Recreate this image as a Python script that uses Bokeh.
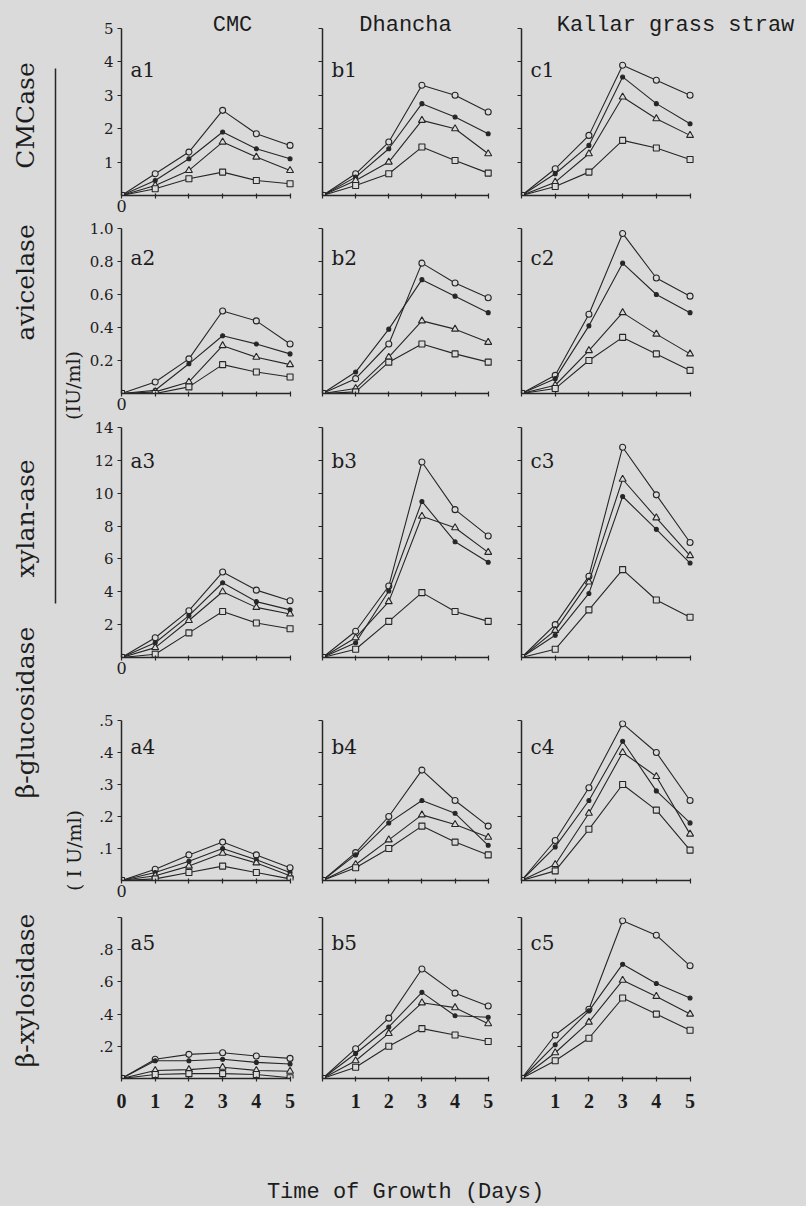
import math
from bokeh.plotting import figure
from bokeh.models import Range1d, FixedTicker, Label, GridBox, Row, Column, CustomJSTickFormatter
from bokeh.embed import file_html
from bokeh.resources import INLINE
from bokeh.core.properties import value

BG = "#dadada"
INK = "#262626"

# ---------------- data (enzyme activity vs. days of growth) ----------------
days = [0, 1, 2, 3, 4, 5]

# row 1: CMCase (IU/ml)
a1_o = [0, 0.65, 1.3, 2.55, 1.85, 1.5]
a1_d = [0, 0.45, 1.1, 1.9, 1.4, 1.1]
a1_t = [0, 0.3, 0.75, 1.6, 1.15, 0.75]
a1_s = [0, 0.2, 0.5, 0.7, 0.45, 0.35]
b1_o = [0, 0.65, 1.6, 3.3, 3.0, 2.5]
b1_d = [0, 0.55, 1.4, 2.75, 2.35, 1.85]
b1_t = [0, 0.45, 1.0, 2.25, 2.0, 1.25]
b1_s = [0, 0.3, 0.65, 1.45, 1.05, 0.67]
c1_o = [0, 0.8, 1.8, 3.9, 3.45, 3.0]
c1_d = [0, 0.65, 1.5, 3.55, 2.75, 2.15]
c1_t = [0, 0.4, 1.25, 2.95, 2.3, 1.8]
c1_s = [0, 0.27, 0.7, 1.65, 1.42, 1.08]

# row 2: avicelase
a2_o = [0, 0.07, 0.21, 0.50, 0.44, 0.30]
a2_d = [0, 0.02, 0.18, 0.35, 0.30, 0.24]
a2_t = [0, 0.01, 0.07, 0.29, 0.22, 0.175]
a2_s = [0, 0.0, 0.04, 0.175, 0.13, 0.10]
b2_o = [0, 0.09, 0.30, 0.79, 0.67, 0.58]
b2_d = [0, 0.13, 0.39, 0.69, 0.59, 0.49]
b2_t = [0, 0.03, 0.22, 0.44, 0.39, 0.31]
b2_s = [0, 0.01, 0.19, 0.30, 0.24, 0.19]
c2_o = [0, 0.11, 0.48, 0.97, 0.70, 0.59]
c2_d = [0, 0.09, 0.41, 0.79, 0.60, 0.49]
c2_t = [0, 0.05, 0.26, 0.49, 0.36, 0.24]
c2_s = [0, 0.03, 0.20, 0.34, 0.24, 0.14]

# row 3: xylanase
a3_o = [0, 1.2, 2.85, 5.2, 4.1, 3.45]
a3_d = [0, 0.9, 2.55, 4.55, 3.4, 2.9]
a3_t = [0, 0.6, 2.25, 4.0, 3.05, 2.65]
a3_s = [0, 0.2, 1.5, 2.8, 2.1, 1.75]
b3_o = [0, 1.6, 4.35, 11.9, 9.0, 7.4]
b3_d = [0, 0.9, 4.05, 9.5, 7.05, 5.8]
b3_t = [0, 1.2, 3.4, 8.6, 7.9, 6.4]
b3_s = [0, 0.5, 2.2, 3.95, 2.8, 2.2]
c3_o = [0, 2.0, 4.95, 12.8, 9.9, 7.0]
c3_t = [0, 1.65, 4.6, 10.85, 8.5, 6.2]
c3_d = [0, 1.35, 3.9, 9.8, 7.8, 5.75]
c3_s = [0, 0.5, 2.9, 5.35, 3.5, 2.45]

# row 4: beta-glucosidase
a4_o = [0, 0.035, 0.08, 0.12, 0.08, 0.04]
a4_d = [0, 0.025, 0.06, 0.10, 0.065, 0.025]
a4_t = [0, 0.015, 0.045, 0.085, 0.055, 0.015]
a4_s = [0, 0.005, 0.025, 0.045, 0.025, 0.005]
b4_o = [0, 0.087, 0.20, 0.345, 0.25, 0.17]
b4_d = [0, 0.08, 0.18, 0.25, 0.21, 0.11]
b4_t = [0, 0.05, 0.127, 0.205, 0.175, 0.135]
b4_s = [0, 0.04, 0.10, 0.17, 0.12, 0.08]
c4_o = [0, 0.125, 0.29, 0.49, 0.40, 0.25]
c4_d = [0, 0.105, 0.25, 0.435, 0.28, 0.18]
c4_t = [0, 0.05, 0.21, 0.40, 0.325, 0.145]
c4_s = [0, 0.03, 0.16, 0.30, 0.22, 0.095]

# row 5: beta-xylosidase
a5_o = [0, 0.12, 0.15, 0.16, 0.14, 0.125]
a5_d = [0, 0.11, 0.11, 0.12, 0.10, 0.09]
a5_t = [0, 0.05, 0.055, 0.07, 0.05, 0.045]
a5_s = [0, 0.025, 0.03, 0.03, 0.025, 0.005]
b5_o = [0, 0.185, 0.375, 0.68, 0.53, 0.45]
b5_d = [0, 0.155, 0.32, 0.535, 0.39, 0.38]
b5_t = [0, 0.11, 0.28, 0.47, 0.44, 0.34]
b5_s = [0, 0.07, 0.20, 0.31, 0.27, 0.23]
c5_o = [0, 0.27, 0.43, 0.98, 0.89, 0.70]
c5_d = [0, 0.21, 0.42, 0.71, 0.59, 0.50]
c5_t = [0, 0.16, 0.35, 0.61, 0.51, 0.40]
c5_s = [0, 0.11, 0.25, 0.50, 0.40, 0.30]

col_titles = ["CMC", "Dhancha", "Kallar grass straw"]
row_names = ["CMCase", "avicelase", "xylan-ase", "\u03b2-glucosidase", "\u03b2-xylosidase"]
unit_labels = ["(IU/ml)", "( I U/ml)"]
x_title = "Time of Growth (Days)"
panel_ids = [["a1", "b1", "c1"], ["a2", "b2", "c2"], ["a3", "b3", "c3"],
             ["a4", "b4", "c4"], ["a5", "b5", "c5"]]
y_max = [5, 1.0, 14, 0.5, 1.0]
y_ticks = [[1, 2, 3, 4, 5], [0.2, 0.4, 0.6, 0.8, 1.0], [2, 4, 6, 8, 10, 12, 14],
           [0.1, 0.2, 0.3, 0.4, 0.5], [0.2, 0.4, 0.6, 0.8, 1.0]]
y_tick_labels = [["1", "2", "3", "4", "5"], ["0.2", "0.4", "0.6", "0.8", "1.0"],
                 ["2", "4", "6", "8", "10", "12", "14"], [".1", ".2", ".3", ".4", ".5"],
                 [".2", ".4", ".6", ".8", ""]]
x_tick_labels = ["0", "1", "2", "3", "4", "5"]

series = {
    "a1": [a1_o, a1_d, a1_t, a1_s], "b1": [b1_o, b1_d, b1_t, b1_s], "c1": [c1_o, c1_d, c1_t, c1_s],
    "a2": [a2_o, a2_d, a2_t, a2_s], "b2": [b2_o, b2_d, b2_t, b2_s], "c2": [c2_o, c2_d, c2_t, c2_s],
    "a3": [a3_o, a3_d, a3_t, a3_s], "b3": [b3_o, b3_d, b3_t, b3_s], "c3": [c3_o, c3_d, c3_t, c3_s],
    "a4": [a4_o, a4_d, a4_t, a4_s], "b4": [b4_o, b4_d, b4_t, b4_s], "c4": [c4_o, c4_d, c4_t, c4_s],
    "a5": [a5_o, a5_d, a5_t, a5_s], "b5": [b5_o, b5_d, b5_t, b5_s], "c5": [c5_o, c5_d, c5_t, c5_s],
}

# ---------------- layout (page pixels, origin at top-left) ----------------
LABEL_W = 84
COLS = [dict(left=37, frame=177, right=10),
        dict(left=14, frame=174, right=10),
        dict(left=15, frame=283, right=2)]
col_unit = [33.71, 33.14, 33.71]     # pixels per day in each column
# axis = pixel length of the 0..y_max axis; frame may extend above it (row 1, for titles)
ROWS = [dict(top=4, frame=191, axis=167, bottom=24),
        dict(top=9, frame=165, axis=165, bottom=24),
        dict(top=10, frame=230, axis=230, bottom=24),
        dict(top=39, frame=160, axis=160, bottom=24),
        dict(top=13, frame=161, axis=161, bottom=47)]
BOTTOM_H = 81

col_frame_left = []
xx = LABEL_W
for c in COLS:
    col_frame_left.append(xx + c["left"])
    xx += c["left"] + c["frame"] + c["right"]
TOTAL_W = xx
row_frame_bottom = []
yy = 0
for r in ROWS:
    row_frame_bottom.append(yy + r["top"] + r["frame"])
    yy += r["top"] + r["frame"] + r["bottom"]
GRID_H = yy


def to_data(ci, ri, px, py, xe, ye):
    x = (px - col_frame_left[ci]) * xe / COLS[ci]["frame"]
    y = (row_frame_bottom[ri] - py) * ye / ROWS[ri]["frame"]
    return x, y


def fmt(tick_values, tick_texts):
    return CustomJSTickFormatter(
        args=dict(tv=tick_values, tl=tick_texts),
        code="for (let i = 0; i < tv.length; i++) { if (Math.abs(tv[i] - tick) < 1e-9) return tl[i]; } return '';")


marker_styles = [("circle", 6, BG), ("circle", 4, INK), ("triangle", 7, BG), ("square", 6, BG)]
label_dy = [41, 29, 33, 26, 25]      # panel tag offset below the axis top (px)
title_x = [232, 405, 675]

grid_children = []
for ri in range(5):
    for ci in range(3):
        c, r = COLS[ci], ROWS[ri]
        xe = c["frame"] / col_unit[ci]
        ye = y_max[ri] * r["frame"] / r["axis"]
        p = figure(width=c["left"] + c["frame"] + c["right"],
                   height=r["top"] + r["frame"] + r["bottom"],
                   x_range=Range1d(0, xe), y_range=Range1d(0, ye), title=None,
                   min_border_left=c["left"], min_border_right=c["right"],
                   min_border_top=r["top"], min_border_bottom=r["bottom"],
                   toolbar_location=None, output_backend="svg",
                   background_fill_color=BG, border_fill_color=BG,
                   outline_line_color=None)
        p.grid.visible = False
        xa, ya = p.xaxis[0], p.yaxis[0]
        for ax in (xa, ya):
            ax.axis_line_color = INK
            ax.axis_line_width = 1.5
            ax.major_tick_line_color = INK
            ax.major_tick_line_width = 1.2
            ax.minor_tick_line_color = None
            ax.major_label_text_color = "#1c1c1c"
        xa.ticker = FixedTicker(ticks=days)
        xa.bounds = (0, 5)
        xa.major_tick_out = 3
        xa.major_tick_in = 2
        ya.ticker = FixedTicker(ticks=y_ticks[ri])
        ya.bounds = (0, y_max[ri])
        ya.major_tick_out = 4
        ya.major_tick_in = 0
        ya.major_label_standoff = 4
        ya.major_label_text_font = "DejaVu Serif"
        ya.major_label_text_font_size = "15px"
        if ci == 0:
            ya.formatter = fmt(y_ticks[ri], y_tick_labels[ri])
        else:
            ya.formatter = fmt(y_ticks[ri], [""] * len(y_ticks[ri]))
        if ri < 4:
            xa.major_label_standoff = 1
            xa.major_label_text_font = "DejaVu Serif"
            xa.major_label_text_font_size = "16px"
            xa.formatter = fmt(days, ["0", "", "", "", "", ""] if ci == 0 else [""] * 6)
        else:
            xa.major_label_standoff = 12
            xa.major_label_text_font = "Liberation Serif"
            xa.major_label_text_font_style = "bold"
            xa.major_label_text_font_size = "20px"
            xa.formatter = fmt(days, x_tick_labels if ci == 0 else [""] + x_tick_labels[1:])

        pid = panel_ids[ri][ci]
        for ys, (mk, sz, fc) in zip(series[pid], marker_styles):
            p.line(days, ys, line_color=INK, line_width=1.1)
            p.scatter(days, ys, marker=mk, size=sz, line_color=INK, fill_color=fc, line_width=1.1)

        axis_top = row_frame_bottom[ri] - r["axis"]
        lx, ly = to_data(ci, ri, col_frame_left[ci] + 9, axis_top + label_dy[ri], xe, ye)
        p.add_layout(Label(x=lx, y=ly, text=pid, text_font="DejaVu Serif", text_font_size="20px",
                           text_color="#1c1c1c", text_baseline="middle", text_align="left"))
        if ri == 0:
            tx, ty = to_data(ci, 0, title_x[ci], 25, xe, ye)
            p.add_layout(Label(x=tx, y=ty, text=col_titles[ci], text_font="Liberation Mono",
                               text_font_size="22px", text_color="#1c1c1c",
                               text_align="center", text_baseline="middle"))
        grid_children.append((p, ri, ci))

panels = GridBox(children=grid_children, spacing=0, styles={"background-color": BG})

# left label strip; coordinates are pixels up from its bottom edge
lf = figure(width=LABEL_W, height=GRID_H, x_range=Range1d(0, LABEL_W), y_range=Range1d(0, GRID_H),
            title=None, min_border=0, x_axis_type=None, y_axis_type=None, toolbar_location=None,
            output_backend="svg", background_fill_color=BG, border_fill_color=BG,
            outline_line_color=None)
lf.grid.visible = False
row_label_page_y = [115, 282, 518, 712, 990]
lf.text(x=[25] * 5, y=[GRID_H - v for v in row_label_page_y], text=row_names,
        angle=math.pi / 2, text_align="center", text_baseline="middle",
        text_font=value("DejaVu Serif"), text_font_size=value("25px"), text_color="#1c1c1c")
lf.text(x=[72, 73], y=[GRID_H - 385, GRID_H - 850], text=unit_labels,
        angle=math.pi / 2, text_align="center", text_baseline="middle",
        text_font=value("DejaVu Serif"), text_font_size=value("19px"), text_color="#1c1c1c")
lf.segment(x0=[55], y0=[GRID_H - 68], x1=[55], y1=[GRID_H - 603],
           line_color=INK, line_width=1.5)

bf = figure(width=TOTAL_W, height=BOTTOM_H, x_range=Range1d(0, TOTAL_W), y_range=Range1d(0, BOTTOM_H),
            title=None, min_border=0, x_axis_type=None, y_axis_type=None, toolbar_location=None,
            output_backend="svg", background_fill_color=BG, border_fill_color=BG,
            outline_line_color=None)
bf.grid.visible = False
bf.text(x=[405], y=[GRID_H + BOTTOM_H - 1192], text=[x_title],
        text_align="center", text_baseline="middle",
        text_font=value("Liberation Mono"), text_font_size=value("22px"), text_color="#1c1c1c")

layout = Column(children=[Row(children=[lf, panels], spacing=0, styles={"background-color": BG}), bf],
                spacing=0, styles={"background-color": BG})
open("out.html", "w").write(file_html(layout, INLINE))
